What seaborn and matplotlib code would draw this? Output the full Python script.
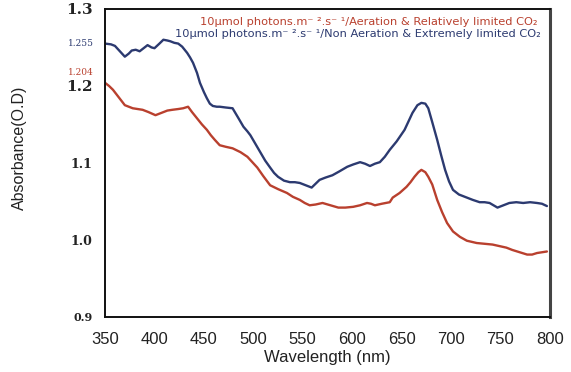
import matplotlib
matplotlib.use("Agg")
import matplotlib.pyplot as plt
import matplotlib.transforms as mtransforms
import seaborn as sns
import pandas as pd

# Wavelength (nm) and absorbance
wl_blue = [350, 356, 360, 365, 370, 374, 377, 381, 385, 389, 393, 397, 400, 405, 409,
           413, 416, 420, 424, 428, 433, 436, 439, 443, 446, 450, 453, 456, 459, 463,
           466, 472, 479, 485, 490, 494, 497, 502, 507, 512, 517, 521, 525, 531, 537,
           542, 547, 553, 559, 563, 567, 573, 580, 587, 595, 601, 608, 613, 618, 623,
           628, 633, 638, 645, 653, 657, 661, 666, 670, 674, 677, 681, 686, 690, 694,
           698, 702, 708, 716, 722, 729, 734, 739, 743, 747, 753, 759, 766, 773, 780,
           787, 792, 797]
abs_blue = [1.255, 1.254, 1.252, 1.245, 1.238, 1.242, 1.246, 1.247, 1.245, 1.249, 1.253,
            1.250, 1.249, 1.255, 1.260, 1.259, 1.258, 1.256, 1.255, 1.251, 1.243, 1.237,
            1.230, 1.217, 1.204, 1.192, 1.184, 1.177, 1.174, 1.173, 1.173, 1.172, 1.171,
            1.158, 1.147, 1.141, 1.136, 1.125, 1.114, 1.103, 1.094, 1.087, 1.082, 1.077,
            1.075, 1.075, 1.074, 1.071, 1.068, 1.073, 1.078, 1.081, 1.084, 1.089, 1.095,
            1.098, 1.101, 1.099, 1.096, 1.099, 1.101, 1.108, 1.117, 1.128, 1.143, 1.154,
            1.165, 1.175, 1.178, 1.177, 1.171, 1.153, 1.130, 1.110, 1.091, 1.076, 1.065,
            1.059, 1.055, 1.052, 1.049, 1.049, 1.048, 1.045, 1.042, 1.045, 1.048, 1.049,
            1.048, 1.049, 1.048, 1.047, 1.044]

wl_red = [350, 354, 358, 364, 370, 374, 378, 383, 388, 394, 401, 407, 413, 418, 424,
          429, 434, 438, 443, 448, 453, 457, 461, 466, 472, 479, 487, 494, 499, 504,
          510, 517, 525, 534, 540, 547, 552, 557, 563, 570, 578, 586, 593, 601, 608,
          615, 619, 623, 630, 638, 641, 648, 655, 659, 663, 667, 670, 674, 677, 681,
          686, 691, 696, 702, 709, 716, 726, 734, 742, 749, 756, 762, 767, 772, 777,
          782, 787, 792, 797]
abs_red = [1.204, 1.200, 1.195, 1.185, 1.175, 1.173, 1.171, 1.170, 1.169, 1.166, 1.162,
           1.165, 1.168, 1.169, 1.170, 1.171, 1.173, 1.166, 1.158, 1.150, 1.143, 1.136,
           1.130, 1.123, 1.121, 1.119, 1.114, 1.108, 1.101, 1.094, 1.083, 1.071, 1.066,
           1.061, 1.056, 1.052, 1.048, 1.045, 1.046, 1.048, 1.045, 1.042, 1.042, 1.043,
           1.045, 1.048, 1.047, 1.045, 1.047, 1.049, 1.055, 1.061, 1.069, 1.075, 1.082,
           1.088, 1.091, 1.088, 1.082, 1.072, 1.052, 1.036, 1.022, 1.011, 1.004, 0.999,
           0.996, 0.995, 0.994, 0.992, 0.990, 0.987, 0.985, 0.983, 0.981, 0.981, 0.983,
           0.984, 0.985]

label_red = "10\u03bcmol photons.m\u207b \u00b2.s\u207b \u00b9/Aeration & Relatively limited CO\u2082"
label_blue = "10\u03bcmol photons.m\u207b \u00b2.s\u207b \u00b9/Non Aeration & Extremely limited CO\u2082"

x_ticks = [350, 400, 450, 500, 550, 600, 650, 700, 750, 800]
y_ticks = [0.9, 1.0, 1.1, 1.2, 1.3]
y_tick_labels = ["0.9", "1.0", "1.1", "1.2", "1.3"]
y_tick_sizes = [8, 9, 9, 11, 11]
start_blue_label = "1.255"
start_red_label = "1.204"

sns.set_theme(style="white")
plt.rcParams['font.family'] = ['Liberation Sans', 'DejaVu Sans']

blue = "#2c3a70"
red = "#b9402e"

fig = plt.figure(figsize=(5.71, 3.72), dpi=100)
ax = fig.add_axes([0.184, 0.148, 0.779, 0.828])

df_blue = pd.DataFrame({"wl": wl_blue, "abs": abs_blue})
df_red = pd.DataFrame({"wl": wl_red, "abs": abs_red})
sns.lineplot(data=df_blue, x="wl", y="abs", ax=ax, color=blue, lw=1.7)
sns.lineplot(data=df_red, x="wl", y="abs", ax=ax, color=red, lw=1.7)

ax.set_xlim(350, 800)
ax.set_ylim(0.9, 1.3)
ax.set_xticks(x_ticks)
ax.set_xticklabels([str(t) for t in x_ticks], fontsize=12, color="#222222")
ax.set_yticks(y_ticks)
ax.set_yticklabels(y_tick_labels)
for lab, s in zip(ax.get_yticklabels(), y_tick_sizes):
    lab.set_fontfamily(['DejaVu Serif'])
    lab.set_fontweight('bold')
    lab.set_fontsize(s)
    lab.set_color("#222222")

ax.tick_params(axis='x', direction='out', length=5, width=1, color="#aaaaaa", pad=6)
ax.tick_params(axis='y', direction='out', length=7, width=1.2, color="#333333", pad=2)

for sp in ax.spines.values():
    sp.set_color("#111111")
    sp.set_linewidth(1.4)
ax.spines['right'].set_color("#444444")
ax.spines['right'].set_linewidth(2.2)

ax.set_xlabel("Wavelength (nm)", fontsize=12, color="#222222", labelpad=2)
ax.set_ylabel("Absorbance(O.D)", fontsize=11.5, color="#222222")
ax.yaxis.set_label_coords(-0.175, 0.55)

trans = mtransforms.blended_transform_factory(ax.transAxes, ax.transData)
ax.text(-0.025, abs_blue[0], start_blue_label, transform=trans, ha='right', va='center',
        fontsize=6.5, color=blue, fontfamily=['DejaVu Serif'])
ax.text(-0.025, abs_red[0] + 0.013, start_red_label, transform=trans, ha='right', va='center',
        fontsize=6.5, color=red, fontfamily=['DejaVu Serif'])

ax.text(0.972, 0.956, label_red, transform=ax.transAxes, ha='right', va='center',
        fontsize=8.2, color=red, fontfamily=['DejaVu Sans'])
ax.text(0.979, 0.917, label_blue, transform=ax.transAxes, ha='right', va='center',
        fontsize=8.2, color=blue, fontfamily=['DejaVu Sans'])

fig.savefig("out.png", dpi=100)
